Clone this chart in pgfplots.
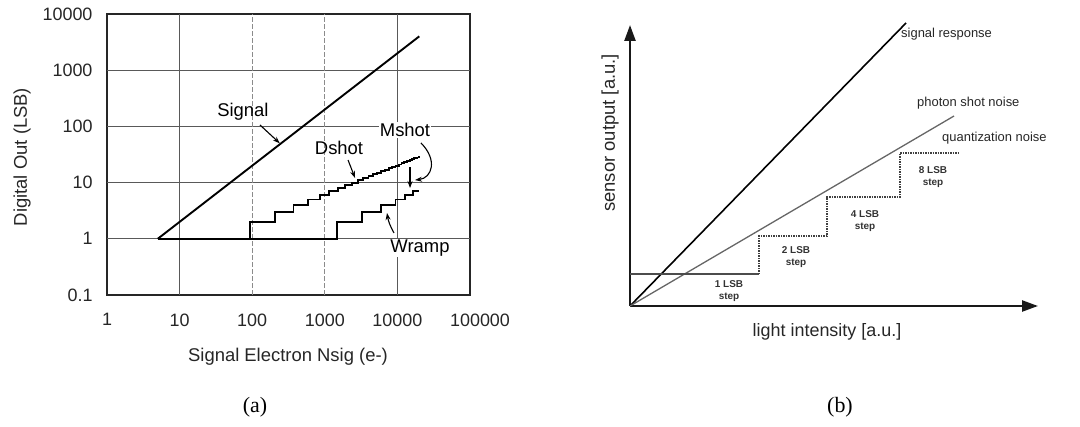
\documentclass[border=0pt]{standalone}
\usepackage{pgfplots}
\pgfplotsset{compat=1.18}
\usepackage{pgfplotstable}
\usepackage{fontspec}
\setmainfont{Liberation Sans}
\newfontfamily\capfont{Liberation Serif}
\usetikzlibrary{arrows.meta}
\definecolor{gridc}{gray}{0.35}

% Dshot staircase (x where each level starts, level in LSB)
\pgfplotstableread{
x y
94 1
94 2
208 3
370 4
590 5
850 6
1150 7
1500 8
1900 9
2350 10
2850 11
3400 12
4000 13
4600 14
5300 15
6000 16
6800 17
7600 18
8500 19
9400 20
10400 21
11400 22
12400 23
13500 24
14700 25
15900 26
17100 27
18400 28
19800 29
20000 29
}\dshot

% Wramp staircase
\pgfplotstableread{
x y
5 1
1470 2
3300 3
6000 4
9400 5
12800 6
16500 7
19600 7
}\wramp

\begin{document}
\begin{tikzpicture}[x=1bp,y=1bp]
\path (0,0) rectangle (1080,426);

% ---------------- panel (a) ----------------
\begin{axis}[
  at={(107bp,131bp)}, anchor=south west,
  scale only axis, width=363bp, height=281bp,
  xmode=log, ymode=log,
  xmin=1, xmax=100000, ymin=0.1, ymax=10000,
  xtick={1,10,100,1000,10000,100000},
  xticklabels={1,10,100,1000,10000,\hspace*{20bp}100000},
  ytick={0.1,1,10,100,1000,10000},
  yticklabels={0.1,1,10,100,1000,10000},
  major tick length=0pt, minor tick length=0pt,
  xminorticks=false, yminorticks=false,
  tick label style={font=\fontsize{18}{20}\selectfont, text=black!85},
  xticklabel style={yshift=-15bp},
  yticklabel style={xshift=-11bp},
  axis line style={line width=2.2bp, black!85},
  clip=false,
]
% grid
\draw[gridc, line width=1.2bp] (axis cs:1,1) -- (axis cs:100000,1);
\draw[gridc, line width=1.2bp] (axis cs:1,10) -- (axis cs:100000,10);
\draw[gridc, line width=1.2bp] (axis cs:1,100) -- (axis cs:100000,100);
\draw[gridc, line width=1.2bp] (axis cs:1,1000) -- (axis cs:100000,1000);
\draw[gridc, line width=1.2bp] (axis cs:10,0.1) -- (axis cs:10,10000);
\draw[gridc, line width=1.2bp] (axis cs:10000,0.1) -- (axis cs:10000,10000);
\draw[gridc!70, line width=1.1bp, dash pattern=on 5bp off 2bp] (axis cs:100,0.1) -- (axis cs:100,10000);
\draw[gridc!70, line width=1.1bp, dash pattern=on 5bp off 2bp] (axis cs:1000,0.1) -- (axis cs:1000,10000);

% data
\addplot[black, line width=1.9bp] coordinates {(5,1) (20000,4000)};
\addplot[black, line width=1.9bp, const plot mark left, line join=miter] table[x=x,y=y] {\wramp};
\addplot[black, line width=1.9bp, const plot mark left, line join=miter] table[x=x,y=y] {\dshot};

% annotations
\node[font=\fontsize{18.5}{20}\selectfont] at (axis cs:74.6,180) {Signal};
\draw[black, line width=1.1bp, -{Stealth[length=7bp,width=5bp]}] (axis cs:128,106) -- (axis cs:240,50);
\node[font=\fontsize{18.5}{20}\selectfont] at (axis cs:1570,41.3) {Dshot};
\draw[black, line width=1.1bp, -{Stealth[length=7bp,width=5bp]}] (axis cs:2090,25.2) -- (axis cs:2607,12.1);
\node[font=\fontsize{18.5}{20}\selectfont, fill=white, inner sep=1bp] at (axis cs:12730,86.3) {Mshot};
\draw[black, line width=1.1bp, -{Stealth[length=7bp,width=5bp]}] (axis cs:14930,18.9) -- (axis cs:14930,8.0);
\draw[black, line width=1.1bp, -{Stealth[length=7bp,width=5bp]}] (axis cs:21130,50.7) .. controls (axis cs:36200,25.1) and (axis cs:30000,12.1) .. (axis cs:17470,11.1);
\node[font=\fontsize{18.5}{20}\selectfont, fill=white, inner sep=1bp] at (axis cs:20470,0.686) {Wramp};
\draw[black, line width=1.1bp, -{Stealth[length=7bp,width=5bp]}] (axis cs:8980,1.27) to[bend left=10] (axis cs:7190,2.88);
\end{axis}

\node[font=\fontsize{18.5}{20}\selectfont, text=black!85] at (288,69) {Signal Electron Nsig (e-)};
\node[font=\fontsize{18.5}{20}\selectfont, text=black!85, rotate=90] at (22,269) {Digital Out (LSB)};

% ---------------- panel (b) ----------------
\begin{axis}[
  at={(630bp,120bp)}, anchor=south west,
  scale only axis, width=408bp, height=281bp,
  xmin=0, xmax=408, ymin=0, ymax=281,
  axis lines=left,
  axis line style={line width=2.4bp, black!90, -{Triangle[length=16bp,width=11bp]}},
  xtick=\empty, ytick=\empty,
  clip=false,
]
\addplot[black, line width=1.6bp] coordinates {(0,0) (276,283)};
\addplot[black!60, line width=1.3bp] coordinates {(0,0) (324,190)};
\addplot[black!70, line width=1.1bp] coordinates {(0,32) (129,32)};
\addplot[black!75, line width=1.5bp, densely dotted] coordinates {(129,32) (129,70) (197,70) (197,109) (270,109) (270,153) (329,153)};

\node[anchor=west, inner sep=0pt, font=\fontsize{13}{15}\selectfont, text=black!85] at (axis cs:271,272) {signal response};
\node[anchor=west, inner sep=0pt, font=\fontsize{13}{15}\selectfont, text=black!85] at (axis cs:287,203) {photon shot noise};
\node[anchor=west, inner sep=0pt, font=\fontsize{13}{15}\selectfont, text=black!85] at (axis cs:312,168) {quantization noise};
\node[align=center, inner sep=0pt, font=\bfseries\fontsize{10}{12.7}\selectfont, text=black!80] at (axis cs:303,129) {8 LSB\\step};
\node[align=center, inner sep=0pt, font=\bfseries\fontsize{10}{12.7}\selectfont, text=black!80] at (axis cs:235,85) {4 LSB\\step};
\node[align=center, inner sep=0pt, font=\bfseries\fontsize{10}{12.7}\selectfont, text=black!80] at (axis cs:166,49) {2 LSB\\step};
\node[align=center, inner sep=0pt, font=\bfseries\fontsize{10}{12.7}\selectfont, text=black!80] at (axis cs:99,15) {1 LSB\\step};
\end{axis}

\node[font=\fontsize{18.5}{20}\selectfont, text=black!85, rotate=90] at (610,293) {sensor output [a.u.]};
\node[font=\fontsize{18}{20}\selectfont, text=black!85] at (827,94) {light intensity [a.u.]};

% captions
\node[font=\capfont\fontsize{22}{24}\selectfont] at (255,19) {(a)};
\node[font=\capfont\fontsize{22}{24}\selectfont] at (840,19) {(b)};
\end{tikzpicture}
\end{document}
